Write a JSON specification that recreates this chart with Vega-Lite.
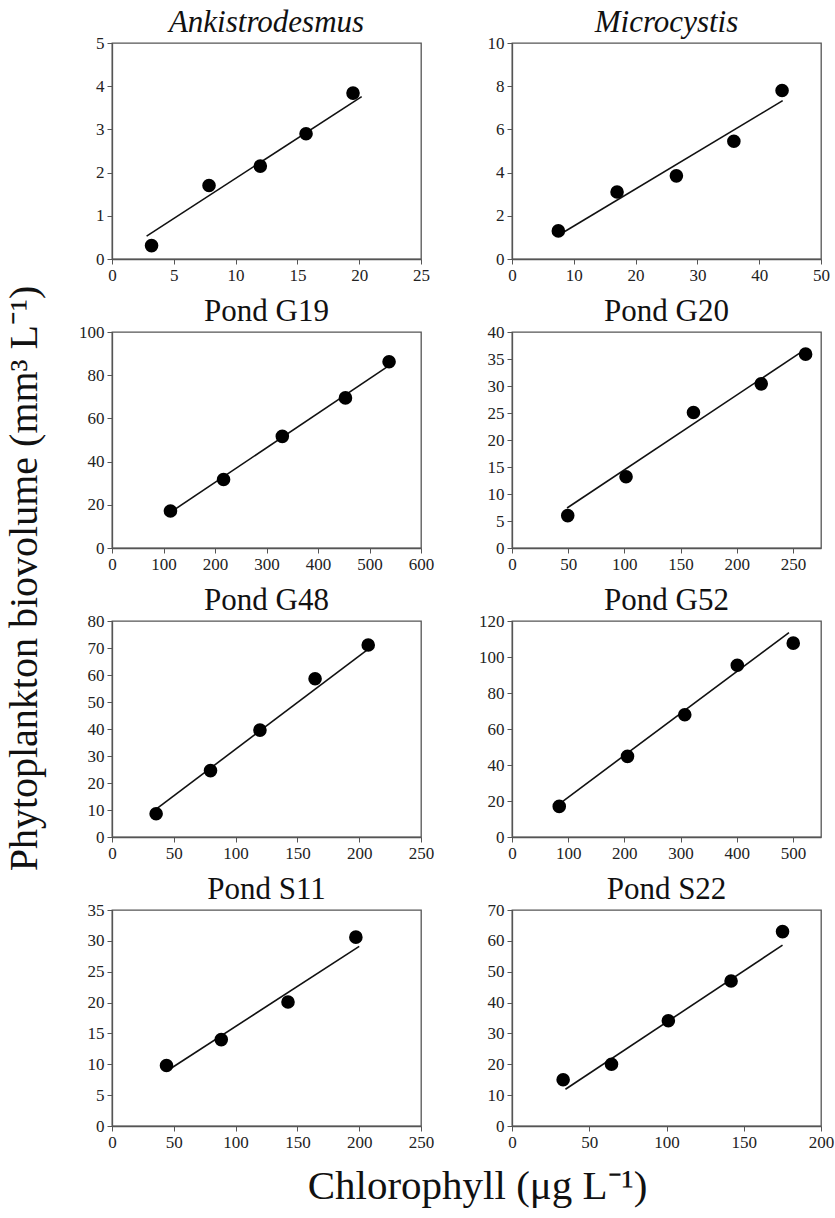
{
  "$schema": "https://vega.github.io/schema/vega-lite/v6.json",
  "background": "white",
  "padding": {"left": 4, "top": 6, "right": 0, "bottom": 2},
  "config": {
    "font": "Liberation Serif",
    "view": {"stroke": "#555", "strokeWidth": 1.3},
    "title": {"font": "Liberation Serif", "fontSize": 31, "fontWeight": "normal", "color": "#111"}
  },
  "datasets": {
    "points": [
      {"panel": "A", "chl": 3.2, "bio": 0.31}, {"panel": "A", "chl": 7.85, "bio": 1.70}, {"panel": "A", "chl": 12.0, "bio": 2.15}, {"panel": "A", "chl": 15.7, "bio": 2.90}, {"panel": "A", "chl": 19.5, "bio": 3.84},
      {"panel": "B", "chl": 7.5, "bio": 1.30}, {"panel": "B", "chl": 17.0, "bio": 3.10}, {"panel": "B", "chl": 26.6, "bio": 3.85}, {"panel": "B", "chl": 35.9, "bio": 5.45}, {"panel": "B", "chl": 43.7, "bio": 7.80},
      {"panel": "C", "chl": 113.5, "bio": 17.1}, {"panel": "C", "chl": 216.6, "bio": 31.7}, {"panel": "C", "chl": 330.7, "bio": 51.7}, {"panel": "C", "chl": 453.3, "bio": 69.5}, {"panel": "C", "chl": 538, "bio": 86.2},
      {"panel": "D", "chl": 49.6, "bio": 6.0}, {"panel": "D", "chl": 101.5, "bio": 13.2}, {"panel": "D", "chl": 161.5, "bio": 25.1}, {"panel": "D", "chl": 221.8, "bio": 30.4}, {"panel": "D", "chl": 261.3, "bio": 35.9},
      {"panel": "E", "chl": 35.7, "bio": 8.6}, {"panel": "E", "chl": 79.7, "bio": 24.6}, {"panel": "E", "chl": 119.7, "bio": 39.6}, {"panel": "E", "chl": 164.3, "bio": 58.6}, {"panel": "E", "chl": 207.3, "bio": 71.1},
      {"panel": "F", "chl": 84.1, "bio": 17.0}, {"panel": "F", "chl": 205.6, "bio": 44.8}, {"panel": "F", "chl": 307.5, "bio": 67.9}, {"panel": "F", "chl": 401, "bio": 95.4}, {"panel": "F", "chl": 500.6, "bio": 107.7},
      {"panel": "G", "chl": 44.1, "bio": 9.8}, {"panel": "G", "chl": 88.4, "bio": 14.0}, {"panel": "G", "chl": 142.4, "bio": 20.1}, {"panel": "G", "chl": 197.3, "bio": 30.6},
      {"panel": "H", "chl": 33.1, "bio": 15.0}, {"panel": "H", "chl": 64.4, "bio": 20.0}, {"panel": "H", "chl": 101.2, "bio": 34.1}, {"panel": "H", "chl": 141.8, "bio": 47.0}, {"panel": "H", "chl": 175.1, "bio": 63.0}
    ],
    "fit": [
      {"panel": "A", "chl": 2.8, "bio": 0.53}, {"panel": "A", "chl": 20.2, "bio": 3.76},
      {"panel": "B", "chl": 8.4, "bio": 1.25}, {"panel": "B", "chl": 43.8, "bio": 7.33},
      {"panel": "C", "chl": 114, "bio": 16.6}, {"panel": "C", "chl": 540, "bio": 84.8},
      {"panel": "D", "chl": 49, "bio": 7.4}, {"panel": "D", "chl": 259, "bio": 36.5},
      {"panel": "E", "chl": 35.7, "bio": 10.3}, {"panel": "E", "chl": 207.3, "bio": 69.6},
      {"panel": "F", "chl": 85, "bio": 18.6}, {"panel": "F", "chl": 493, "bio": 113.5},
      {"panel": "G", "chl": 45, "bio": 9.0}, {"panel": "G", "chl": 200, "bio": 29.1},
      {"panel": "H", "chl": 34.6, "bio": 11.9}, {"panel": "H", "chl": 175.1, "bio": 58.6}
    ],
    "letters": [
      {"panel": "A", "letter": "A"}, {"panel": "B", "letter": "B"}, {"panel": "C", "letter": "C"}, {"panel": "D", "letter": "D"},
      {"panel": "E", "letter": "E"}, {"panel": "F", "letter": "F"}, {"panel": "G", "letter": "G"}, {"panel": "H", "letter": "H"}
    ]
  },
  "title": {"text": "Chlorophyll (μg L⁻¹)", "orient": "bottom", "font": "Liberation Serif", "fontSize": 41, "offset": 16, "anchor": "middle", "baseline": "top", "dx": 58},
  "vconcat": [
    {
      "title": {"text": "Phytoplankton biovolume (mm³ L⁻¹)", "orient": "left", "font": "Liberation Serif", "fontSize": 40, "offset": -7, "anchor": "middle", "baseline": "bottom"},
      "columns": 2,
      "spacing": {"column": 42, "row": 11},
      "concat": [
        {
          "title": {"text": "Ankistrodesmus", "fontStyle": "italic", "baseline": "bottom", "offset": -36},
          "width": 309, "height": 216,
          "encoding": {
            "x": {"field": "chl", "type": "quantitative", "scale": {"domain": [0, 25], "nice": false}, "axis": {"values": [0, 5, 10, 15, 20, 25], "grid": false, "labelFont": "Liberation Serif", "labelFontSize": 17, "labelColor": "#222", "labelPadding": 3, "labelOverlap": false, "labelFlush": false, "domainColor": "#555", "domainWidth": 1.3, "tickColor": "#555", "tickSize": 5, "title": null}},
            "y": {"field": "bio", "type": "quantitative", "scale": {"domain": [0, 5], "nice": false}, "axis": {"values": [0, 1, 2, 3, 4, 5], "grid": false, "labelFont": "Liberation Serif", "labelFontSize": 17, "labelColor": "#222", "labelPadding": 3, "labelOverlap": false, "labelFlush": false, "domainColor": "#555", "domainWidth": 1.3, "tickColor": "#555", "tickSize": 5, "title": null}}
          },
          "layer": [
            {"data": {"name": "fit"}, "transform": [{"filter": "datum.panel === 'A'"}], "mark": {"type": "line", "color": "#111", "strokeWidth": 1.6}},
            {"data": {"name": "points"}, "transform": [{"filter": "datum.panel === 'A'"}], "mark": {"type": "circle", "size": 185, "color": "black", "opacity": 1}},
            {"data": {"name": "letters"}, "transform": [{"filter": "datum.panel === 'A'"}], "mark": {"type": "text", "align": "left", "baseline": "alphabetic", "dx": 16, "dy": 32, "fontSize": 32, "font": "Liberation Serif", "color": "#111"},
             "encoding": {
               "x": {"datum": 0, "type": "quantitative", "axis": {"values": [0, 5, 10, 15, 20, 25], "grid": false, "labelFont": "Liberation Serif", "labelFontSize": 17, "labelColor": "#222", "labelPadding": 3, "labelOverlap": false, "labelFlush": false, "domainColor": "#555", "domainWidth": 1.3, "tickColor": "#555", "tickSize": 5, "title": null}},
               "y": {"datum": 5, "type": "quantitative", "axis": {"values": [0, 1, 2, 3, 4, 5], "grid": false, "labelFont": "Liberation Serif", "labelFontSize": 17, "labelColor": "#222", "labelPadding": 3, "labelOverlap": false, "labelFlush": false, "domainColor": "#555", "domainWidth": 1.3, "tickColor": "#555", "tickSize": 5, "title": null}},
               "text": {"field": "letter"}}}
          ]
        },
        {
          "title": {"text": "Microcystis", "fontStyle": "italic", "baseline": "bottom", "offset": -36},
          "width": 309, "height": 216,
          "encoding": {
            "x": {"field": "chl", "type": "quantitative", "scale": {"domain": [0, 50], "nice": false}, "axis": {"values": [0, 10, 20, 30, 40, 50], "grid": false, "labelFont": "Liberation Serif", "labelFontSize": 17, "labelColor": "#222", "labelPadding": 3, "labelOverlap": false, "labelFlush": false, "domainColor": "#555", "domainWidth": 1.3, "tickColor": "#555", "tickSize": 5, "title": null}},
            "y": {"field": "bio", "type": "quantitative", "scale": {"domain": [0, 10], "nice": false}, "axis": {"values": [0, 2, 4, 6, 8, 10], "grid": false, "labelFont": "Liberation Serif", "labelFontSize": 17, "labelColor": "#222", "labelPadding": 3, "labelOverlap": false, "labelFlush": false, "domainColor": "#555", "domainWidth": 1.3, "tickColor": "#555", "tickSize": 5, "title": null}}
          },
          "layer": [
            {"data": {"name": "fit"}, "transform": [{"filter": "datum.panel === 'B'"}], "mark": {"type": "line", "color": "#111", "strokeWidth": 1.6}},
            {"data": {"name": "points"}, "transform": [{"filter": "datum.panel === 'B'"}], "mark": {"type": "circle", "size": 185, "color": "black", "opacity": 1}},
            {"data": {"name": "letters"}, "transform": [{"filter": "datum.panel === 'B'"}], "mark": {"type": "text", "align": "left", "baseline": "alphabetic", "dx": 16, "dy": 32, "fontSize": 32, "font": "Liberation Serif", "color": "#111"},
             "encoding": {
               "x": {"datum": 0, "type": "quantitative", "axis": {"values": [0, 10, 20, 30, 40, 50], "grid": false, "labelFont": "Liberation Serif", "labelFontSize": 17, "labelColor": "#222", "labelPadding": 3, "labelOverlap": false, "labelFlush": false, "domainColor": "#555", "domainWidth": 1.3, "tickColor": "#555", "tickSize": 5, "title": null}},
               "y": {"datum": 10, "type": "quantitative", "axis": {"values": [0, 2, 4, 6, 8, 10], "grid": false, "labelFont": "Liberation Serif", "labelFontSize": 17, "labelColor": "#222", "labelPadding": 3, "labelOverlap": false, "labelFlush": false, "domainColor": "#555", "domainWidth": 1.3, "tickColor": "#555", "tickSize": 5, "title": null}},
               "text": {"field": "letter"}}}
          ]
        },
        {
          "title": {"text": "Pond G19", "baseline": "bottom", "offset": -36},
          "width": 309, "height": 216,
          "encoding": {
            "x": {"field": "chl", "type": "quantitative", "scale": {"domain": [0, 600], "nice": false}, "axis": {"values": [0, 100, 200, 300, 400, 500, 600], "grid": false, "labelFont": "Liberation Serif", "labelFontSize": 17, "labelColor": "#222", "labelPadding": 3, "labelOverlap": false, "labelFlush": false, "domainColor": "#555", "domainWidth": 1.3, "tickColor": "#555", "tickSize": 5, "title": null}},
            "y": {"field": "bio", "type": "quantitative", "scale": {"domain": [0, 100], "nice": false}, "axis": {"values": [0, 20, 40, 60, 80, 100], "grid": false, "labelFont": "Liberation Serif", "labelFontSize": 17, "labelColor": "#222", "labelPadding": 3, "labelOverlap": false, "labelFlush": false, "domainColor": "#555", "domainWidth": 1.3, "tickColor": "#555", "tickSize": 5, "title": null}}
          },
          "layer": [
            {"data": {"name": "fit"}, "transform": [{"filter": "datum.panel === 'C'"}], "mark": {"type": "line", "color": "#111", "strokeWidth": 1.6}},
            {"data": {"name": "points"}, "transform": [{"filter": "datum.panel === 'C'"}], "mark": {"type": "circle", "size": 185, "color": "black", "opacity": 1}},
            {"data": {"name": "letters"}, "transform": [{"filter": "datum.panel === 'C'"}], "mark": {"type": "text", "align": "left", "baseline": "alphabetic", "dx": 16, "dy": 32, "fontSize": 32, "font": "Liberation Serif", "color": "#111"},
             "encoding": {
               "x": {"datum": 0, "type": "quantitative", "axis": {"values": [0, 100, 200, 300, 400, 500, 600], "grid": false, "labelFont": "Liberation Serif", "labelFontSize": 17, "labelColor": "#222", "labelPadding": 3, "labelOverlap": false, "labelFlush": false, "domainColor": "#555", "domainWidth": 1.3, "tickColor": "#555", "tickSize": 5, "title": null}},
               "y": {"datum": 100, "type": "quantitative", "axis": {"values": [0, 20, 40, 60, 80, 100], "grid": false, "labelFont": "Liberation Serif", "labelFontSize": 17, "labelColor": "#222", "labelPadding": 3, "labelOverlap": false, "labelFlush": false, "domainColor": "#555", "domainWidth": 1.3, "tickColor": "#555", "tickSize": 5, "title": null}},
               "text": {"field": "letter"}}}
          ]
        },
        {
          "title": {"text": "Pond G20", "baseline": "bottom", "offset": -36},
          "width": 309, "height": 216,
          "encoding": {
            "x": {"field": "chl", "type": "quantitative", "scale": {"domain": [0, 275], "nice": false}, "axis": {"values": [0, 50, 100, 150, 200, 250], "grid": false, "labelFont": "Liberation Serif", "labelFontSize": 17, "labelColor": "#222", "labelPadding": 3, "labelOverlap": false, "labelFlush": false, "domainColor": "#555", "domainWidth": 1.3, "tickColor": "#555", "tickSize": 5, "title": null}},
            "y": {"field": "bio", "type": "quantitative", "scale": {"domain": [0, 40], "nice": false}, "axis": {"values": [0, 5, 10, 15, 20, 25, 30, 35, 40], "grid": false, "labelFont": "Liberation Serif", "labelFontSize": 17, "labelColor": "#222", "labelPadding": 3, "labelOverlap": false, "labelFlush": false, "domainColor": "#555", "domainWidth": 1.3, "tickColor": "#555", "tickSize": 5, "title": null}}
          },
          "layer": [
            {"data": {"name": "fit"}, "transform": [{"filter": "datum.panel === 'D'"}], "mark": {"type": "line", "color": "#111", "strokeWidth": 1.6}},
            {"data": {"name": "points"}, "transform": [{"filter": "datum.panel === 'D'"}], "mark": {"type": "circle", "size": 185, "color": "black", "opacity": 1}},
            {"data": {"name": "letters"}, "transform": [{"filter": "datum.panel === 'D'"}], "mark": {"type": "text", "align": "left", "baseline": "alphabetic", "dx": 16, "dy": 32, "fontSize": 32, "font": "Liberation Serif", "color": "#111"},
             "encoding": {
               "x": {"datum": 0, "type": "quantitative", "axis": {"values": [0, 50, 100, 150, 200, 250], "grid": false, "labelFont": "Liberation Serif", "labelFontSize": 17, "labelColor": "#222", "labelPadding": 3, "labelOverlap": false, "labelFlush": false, "domainColor": "#555", "domainWidth": 1.3, "tickColor": "#555", "tickSize": 5, "title": null}},
               "y": {"datum": 40, "type": "quantitative", "axis": {"values": [0, 5, 10, 15, 20, 25, 30, 35, 40], "grid": false, "labelFont": "Liberation Serif", "labelFontSize": 17, "labelColor": "#222", "labelPadding": 3, "labelOverlap": false, "labelFlush": false, "domainColor": "#555", "domainWidth": 1.3, "tickColor": "#555", "tickSize": 5, "title": null}},
               "text": {"field": "letter"}}}
          ]
        },
        {
          "title": {"text": "Pond G48", "baseline": "bottom", "offset": -36},
          "width": 309, "height": 216,
          "encoding": {
            "x": {"field": "chl", "type": "quantitative", "scale": {"domain": [0, 250], "nice": false}, "axis": {"values": [0, 50, 100, 150, 200, 250], "grid": false, "labelFont": "Liberation Serif", "labelFontSize": 17, "labelColor": "#222", "labelPadding": 3, "labelOverlap": false, "labelFlush": false, "domainColor": "#555", "domainWidth": 1.3, "tickColor": "#555", "tickSize": 5, "title": null}},
            "y": {"field": "bio", "type": "quantitative", "scale": {"domain": [0, 80], "nice": false}, "axis": {"values": [0, 10, 20, 30, 40, 50, 60, 70, 80], "grid": false, "labelFont": "Liberation Serif", "labelFontSize": 17, "labelColor": "#222", "labelPadding": 3, "labelOverlap": false, "labelFlush": false, "domainColor": "#555", "domainWidth": 1.3, "tickColor": "#555", "tickSize": 5, "title": null}}
          },
          "layer": [
            {"data": {"name": "fit"}, "transform": [{"filter": "datum.panel === 'E'"}], "mark": {"type": "line", "color": "#111", "strokeWidth": 1.6}},
            {"data": {"name": "points"}, "transform": [{"filter": "datum.panel === 'E'"}], "mark": {"type": "circle", "size": 185, "color": "black", "opacity": 1}},
            {"data": {"name": "letters"}, "transform": [{"filter": "datum.panel === 'E'"}], "mark": {"type": "text", "align": "left", "baseline": "alphabetic", "dx": 16, "dy": 32, "fontSize": 32, "font": "Liberation Serif", "color": "#111"},
             "encoding": {
               "x": {"datum": 0, "type": "quantitative", "axis": {"values": [0, 50, 100, 150, 200, 250], "grid": false, "labelFont": "Liberation Serif", "labelFontSize": 17, "labelColor": "#222", "labelPadding": 3, "labelOverlap": false, "labelFlush": false, "domainColor": "#555", "domainWidth": 1.3, "tickColor": "#555", "tickSize": 5, "title": null}},
               "y": {"datum": 80, "type": "quantitative", "axis": {"values": [0, 10, 20, 30, 40, 50, 60, 70, 80], "grid": false, "labelFont": "Liberation Serif", "labelFontSize": 17, "labelColor": "#222", "labelPadding": 3, "labelOverlap": false, "labelFlush": false, "domainColor": "#555", "domainWidth": 1.3, "tickColor": "#555", "tickSize": 5, "title": null}},
               "text": {"field": "letter"}}}
          ]
        },
        {
          "title": {"text": "Pond G52", "baseline": "bottom", "offset": -36},
          "width": 309, "height": 216,
          "encoding": {
            "x": {"field": "chl", "type": "quantitative", "scale": {"domain": [0, 550], "nice": false}, "axis": {"values": [0, 100, 200, 300, 400, 500], "grid": false, "labelFont": "Liberation Serif", "labelFontSize": 17, "labelColor": "#222", "labelPadding": 3, "labelOverlap": false, "labelFlush": false, "domainColor": "#555", "domainWidth": 1.3, "tickColor": "#555", "tickSize": 5, "title": null}},
            "y": {"field": "bio", "type": "quantitative", "scale": {"domain": [0, 120], "nice": false}, "axis": {"values": [0, 20, 40, 60, 80, 100, 120], "grid": false, "labelFont": "Liberation Serif", "labelFontSize": 17, "labelColor": "#222", "labelPadding": 3, "labelOverlap": false, "labelFlush": false, "domainColor": "#555", "domainWidth": 1.3, "tickColor": "#555", "tickSize": 5, "title": null}}
          },
          "layer": [
            {"data": {"name": "fit"}, "transform": [{"filter": "datum.panel === 'F'"}], "mark": {"type": "line", "color": "#111", "strokeWidth": 1.6}},
            {"data": {"name": "points"}, "transform": [{"filter": "datum.panel === 'F'"}], "mark": {"type": "circle", "size": 185, "color": "black", "opacity": 1}},
            {"data": {"name": "letters"}, "transform": [{"filter": "datum.panel === 'F'"}], "mark": {"type": "text", "align": "left", "baseline": "alphabetic", "dx": 16, "dy": 32, "fontSize": 32, "font": "Liberation Serif", "color": "#111"},
             "encoding": {
               "x": {"datum": 0, "type": "quantitative", "axis": {"values": [0, 100, 200, 300, 400, 500], "grid": false, "labelFont": "Liberation Serif", "labelFontSize": 17, "labelColor": "#222", "labelPadding": 3, "labelOverlap": false, "labelFlush": false, "domainColor": "#555", "domainWidth": 1.3, "tickColor": "#555", "tickSize": 5, "title": null}},
               "y": {"datum": 120, "type": "quantitative", "axis": {"values": [0, 20, 40, 60, 80, 100, 120], "grid": false, "labelFont": "Liberation Serif", "labelFontSize": 17, "labelColor": "#222", "labelPadding": 3, "labelOverlap": false, "labelFlush": false, "domainColor": "#555", "domainWidth": 1.3, "tickColor": "#555", "tickSize": 5, "title": null}},
               "text": {"field": "letter"}}}
          ]
        },
        {
          "title": {"text": "Pond S11", "baseline": "bottom", "offset": -36},
          "width": 309, "height": 216,
          "encoding": {
            "x": {"field": "chl", "type": "quantitative", "scale": {"domain": [0, 250], "nice": false}, "axis": {"values": [0, 50, 100, 150, 200, 250], "grid": false, "labelFont": "Liberation Serif", "labelFontSize": 17, "labelColor": "#222", "labelPadding": 3, "labelOverlap": false, "labelFlush": false, "domainColor": "#555", "domainWidth": 1.3, "tickColor": "#555", "tickSize": 5, "title": null}},
            "y": {"field": "bio", "type": "quantitative", "scale": {"domain": [0, 35], "nice": false}, "axis": {"values": [0, 5, 10, 15, 20, 25, 30, 35], "grid": false, "labelFont": "Liberation Serif", "labelFontSize": 17, "labelColor": "#222", "labelPadding": 3, "labelOverlap": false, "labelFlush": false, "domainColor": "#555", "domainWidth": 1.3, "tickColor": "#555", "tickSize": 5, "title": null}}
          },
          "layer": [
            {"data": {"name": "fit"}, "transform": [{"filter": "datum.panel === 'G'"}], "mark": {"type": "line", "color": "#111", "strokeWidth": 1.6}},
            {"data": {"name": "points"}, "transform": [{"filter": "datum.panel === 'G'"}], "mark": {"type": "circle", "size": 185, "color": "black", "opacity": 1}},
            {"data": {"name": "letters"}, "transform": [{"filter": "datum.panel === 'G'"}], "mark": {"type": "text", "align": "left", "baseline": "alphabetic", "dx": 16, "dy": 32, "fontSize": 32, "font": "Liberation Serif", "color": "#111"},
             "encoding": {
               "x": {"datum": 0, "type": "quantitative", "axis": {"values": [0, 50, 100, 150, 200, 250], "grid": false, "labelFont": "Liberation Serif", "labelFontSize": 17, "labelColor": "#222", "labelPadding": 3, "labelOverlap": false, "labelFlush": false, "domainColor": "#555", "domainWidth": 1.3, "tickColor": "#555", "tickSize": 5, "title": null}},
               "y": {"datum": 35, "type": "quantitative", "axis": {"values": [0, 5, 10, 15, 20, 25, 30, 35], "grid": false, "labelFont": "Liberation Serif", "labelFontSize": 17, "labelColor": "#222", "labelPadding": 3, "labelOverlap": false, "labelFlush": false, "domainColor": "#555", "domainWidth": 1.3, "tickColor": "#555", "tickSize": 5, "title": null}},
               "text": {"field": "letter"}}}
          ]
        },
        {
          "title": {"text": "Pond S22", "baseline": "bottom", "offset": -36},
          "width": 309, "height": 216,
          "encoding": {
            "x": {"field": "chl", "type": "quantitative", "scale": {"domain": [0, 200], "nice": false}, "axis": {"values": [0, 50, 100, 150, 200], "grid": false, "labelFont": "Liberation Serif", "labelFontSize": 17, "labelColor": "#222", "labelPadding": 3, "labelOverlap": false, "labelFlush": false, "domainColor": "#555", "domainWidth": 1.3, "tickColor": "#555", "tickSize": 5, "title": null}},
            "y": {"field": "bio", "type": "quantitative", "scale": {"domain": [0, 70], "nice": false}, "axis": {"values": [0, 10, 20, 30, 40, 50, 60, 70], "grid": false, "labelFont": "Liberation Serif", "labelFontSize": 17, "labelColor": "#222", "labelPadding": 3, "labelOverlap": false, "labelFlush": false, "domainColor": "#555", "domainWidth": 1.3, "tickColor": "#555", "tickSize": 5, "title": null}}
          },
          "layer": [
            {"data": {"name": "fit"}, "transform": [{"filter": "datum.panel === 'H'"}], "mark": {"type": "line", "color": "#111", "strokeWidth": 1.6}},
            {"data": {"name": "points"}, "transform": [{"filter": "datum.panel === 'H'"}], "mark": {"type": "circle", "size": 185, "color": "black", "opacity": 1}},
            {"data": {"name": "letters"}, "transform": [{"filter": "datum.panel === 'H'"}], "mark": {"type": "text", "align": "left", "baseline": "alphabetic", "dx": 16, "dy": 32, "fontSize": 32, "font": "Liberation Serif", "color": "#111"},
             "encoding": {
               "x": {"datum": 0, "type": "quantitative", "axis": {"values": [0, 50, 100, 150, 200], "grid": false, "labelFont": "Liberation Serif", "labelFontSize": 17, "labelColor": "#222", "labelPadding": 3, "labelOverlap": false, "labelFlush": false, "domainColor": "#555", "domainWidth": 1.3, "tickColor": "#555", "tickSize": 5, "title": null}},
               "y": {"datum": 70, "type": "quantitative", "axis": {"values": [0, 10, 20, 30, 40, 50, 60, 70], "grid": false, "labelFont": "Liberation Serif", "labelFontSize": 17, "labelColor": "#222", "labelPadding": 3, "labelOverlap": false, "labelFlush": false, "domainColor": "#555", "domainWidth": 1.3, "tickColor": "#555", "tickSize": 5, "title": null}},
               "text": {"field": "letter"}}}
          ]
        }
      ]
    }
  ]
}
